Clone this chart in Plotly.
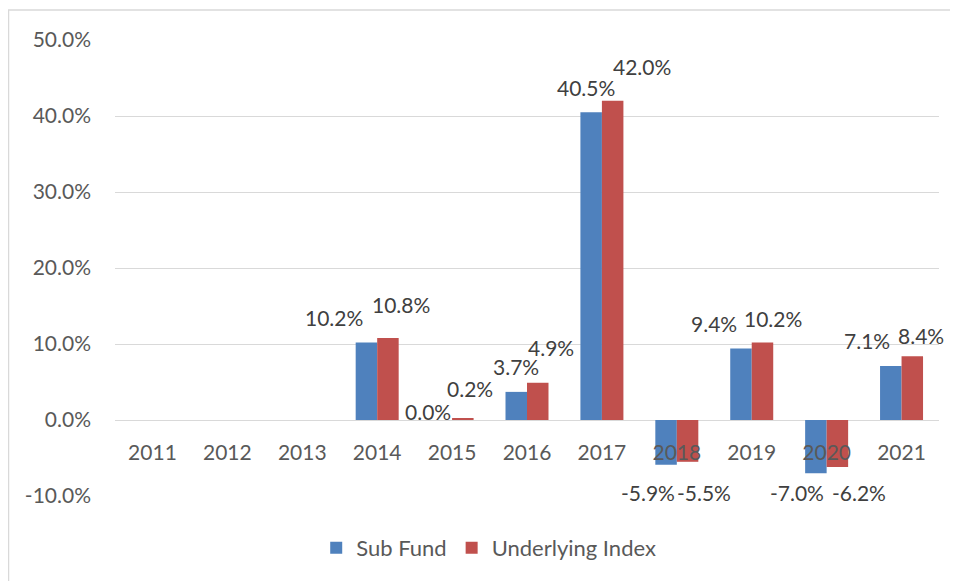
import plotly.graph_objects as go

years = ["2011", "2012", "2013", "2014", "2015", "2016", "2017", "2018", "2019", "2020", "2021"]
sub_fund = [None, None, None, 10.2, 0.0, 3.7, 40.5, -5.9, 9.4, -7.0, 7.1]
underlying_index = [None, None, None, 10.8, 0.2, 4.9, 42.0, -5.5, 10.2, -6.2, 8.4]
y_ticks = [-10, 0, 10, 20, 30, 40, 50]
y_tick_labels = ["-10.0%", "0.0%", "10.0%", "20.0%", "30.0%", "40.0%", "50.0%"]

# label nudges (pixels) relative to bar end, mimicking the original label placement
sub_nudge = [None, None, None, (-32, -25), (-13.6, -8.3), (0, -25), (-5.6, -24.5), (-18, 27.5),
             (-26.7, -25.3), (-18.4, 19), (-23.6, -26)]
idx_nudge = [None, None, None, (13, -33), (7.6, -30), (13.5, -35.5), (29.5, -34), (16.5, 30.5),
             (10.8, -24.2), (21.6, 25), (8.5, -21)]

BLUE = "#4F81BD"
RED = "#C0504D"
FONT = "Lato"
FS = 21
W, H = 958, 581
# page body has an 8px margin, so figure coordinates are offset by 8px
L, R, T, B = 107, 27, 32, 93
plot_w = W - L - R
plot_h = H - T - B
cat_w = plot_w / len(years)
bargap = 0.426
bar_w = cat_w * (1 - bargap) / 2

fig = go.Figure()
fig.add_trace(go.Bar(x=years, y=sub_fund, name="Sub Fund", marker_color=BLUE))
fig.add_trace(go.Bar(x=years, y=underlying_index, name="Underlying Index", marker_color=RED))

annotations = []
for vals, nudges, off in ((sub_fund, sub_nudge, -bar_w / 2), (underlying_index, idx_nudge, bar_w / 2)):
    for i, (v, n) in enumerate(zip(vals, nudges)):
        if v is None:
            continue
        annotations.append(dict(
            x=i, y=v, xref="x", yref="y", text=f"{v:.1f}%", showarrow=False,
            xanchor="center", yanchor="middle",
            xshift=off + n[0], yshift=-n[1],
            font=dict(family=FONT, size=FS, color="#404040"),
        ))

zero_pos = (0 - (-10)) / 60.0

fig.update_layout(
    template="none",
    width=W, height=H,
    margin=dict(l=L, r=R, t=T, b=B, pad=0, autoexpand=False),
    paper_bgcolor="white", plot_bgcolor="white",
    barmode="group", bargap=bargap, bargroupgap=0,
    font=dict(family=FONT, size=FS, color="#595959"),
    annotations=annotations,
    showlegend=True,
    legend=dict(orientation="h", x=0.459 - 4.5 / plot_w, xanchor="center",
                y=-(548 - 8 - (H - B)) / plot_h, yanchor="middle",
                font=dict(family=FONT, size=22, color="#595959"),
                traceorder="normal", bgcolor="rgba(0,0,0,0)"),
    xaxis=dict(type="category", range=[-0.5, len(years) - 0.5], anchor="free", position=zero_pos,
               showline=False, showgrid=False, zeroline=False, ticks="", ticklabelstandoff=18,
               automargin=False,
               tickfont=dict(family=FONT, size=FS, color="#595959")),
    yaxis=dict(range=[-10, 50], tickvals=y_ticks, ticktext=y_tick_labels, showgrid=True,
               gridcolor="#D9D9D9", gridwidth=1, zeroline=True, zerolinecolor="#D9D9D9",
               zerolinewidth=1, ticks="", showline=False, ticklabelstandoff=23,
               automargin=False,
               tickfont=dict(family=FONT, size=FS, color="#595959")),
    shapes=[dict(type="rect", xref="paper", yref="paper",
                 x0=(0.5 - L) / plot_w, x1=1.2,
                 y0=-0.4, y1=1 + (T - 2) / plot_h,
                 line=dict(color="#D9D9D9", width=1.5), fillcolor="rgba(0,0,0,0)",
                 layer="below")],
)

fig.write_html("out.html")
